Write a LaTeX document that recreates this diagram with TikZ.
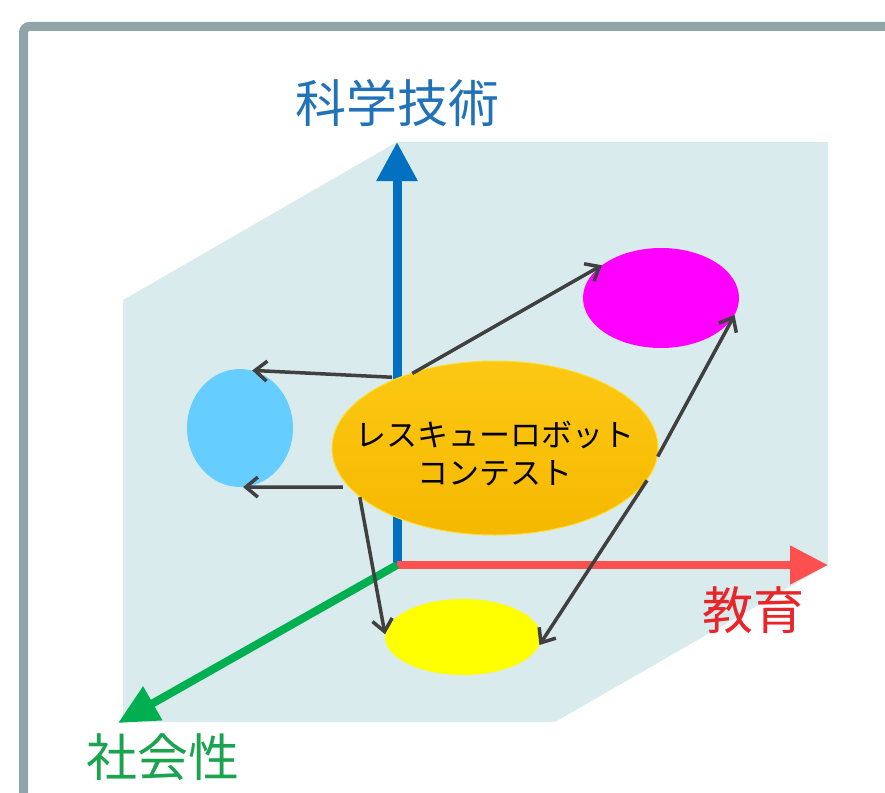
\documentclass[tikz,border=0pt]{standalone}
\usepackage{fontspec}
\setmainfont{Noto Sans CJK JP}
\usetikzlibrary{arrows.meta,shapes.geometric}
\definecolor{framec}{RGB}{143,165,167}
\definecolor{planec}{RGB}{218,235,238}
\definecolor{bluec}{RGB}{0,112,192}
\definecolor{redc}{RGB}{255,80,80}
\definecolor{greenc}{RGB}{0,176,80}
\definecolor{bluet}{RGB}{34,114,184}
\definecolor{redt}{RGB}{232,38,42}
\definecolor{greent}{RGB}{27,163,80}
\definecolor{magc}{RGB}{255,0,255}
\definecolor{cyanc}{RGB}{102,206,255}
\definecolor{yelc}{RGB}{255,255,0}
\definecolor{orgtop}{RGB}{252,200,20}
\definecolor{orgbot}{RGB}{246,184,0}
\definecolor{orgline}{RGB}{252,222,50}
\definecolor{connc}{RGB}{64,64,64}
\begin{document}
\begin{tikzpicture}[x=1pt,y=-1pt,
  frame/.style={draw=framec,line width=9pt,rounded corners=6pt},
  blob/.style={ellipse,inner sep=0pt,draw=none},
  lab/.style={inner sep=0pt,font=\fontsize{51pt}{60pt}\selectfont},
  conn/.style={draw=connc,line width=3.5pt,-{Straight Barb[length=12pt,width=20pt]}}]
\useasboundingbox (0,0) rectangle (885,792);
\clip (0,0) rectangle (885,792);
\draw[frame] (23.5,830) -- (23.5,26.5) -- (920,26.5);
\fill[planec] (123,300) -- (397,142) -- (828,142) -- (828,565) -- (555,722) -- (123,722) -- cycle;
% ellipses
\node[blob,fill=cyanc,minimum width=106pt,minimum height=118pt] (cyan) at (240,428) {};
\node[blob,fill=magc,minimum width=156pt,minimum height=100pt] (mag) at (661,298) {};
\node[blob,fill=yelc,minimum width=156pt,minimum height=76pt] (yel) at (463,637) {};
% axes
\coordinate (origin) at (397,565);
\coordinate (ztop) at (397,142);
\coordinate (xend) at (828,565);
\coordinate (yend) at (118,723);
\draw[line width=9pt,draw=bluec,-{Triangle[length=39pt,width=39pt]}] (origin) -- (ztop);
\draw[line width=8pt,draw=redc,-{Triangle[length=38pt,width=37pt]}] (origin) -- (xend);
\draw[line width=8pt,draw=greenc,-{Triangle[length=40pt,width=37pt]}] (origin) -- (yend);
% central ellipse
\node[ellipse,inner sep=0pt,minimum width=326pt,minimum height=174pt,
      top color=orgtop,bottom color=orgbot,draw=orgline,line width=1pt] (orange) at (495,448) {};
\node[inner sep=0pt,align=center,font=\fontsize{31pt}{38pt}\selectfont] (title) at (495,454)
  {レスキューロボット\\コンテスト};
% labels
\node[lab,text=bluet] (zlab) at (397,103) {科学技術};
\node[lab,text=redt] (xlab) at (753,610) {教育};
\node[lab,text=greent] (ylab) at (163,757) {社会性};
% connectors
\draw[conn,shorten <=-4pt] (orange.136) -- (mag.151);
\draw[conn,shorten <=6pt] (orange.144) -- (cyan.78);
\draw[conn,shorten <=6pt] (orange.195) -- (cyan.-87);
\draw[conn] (orange.200) -- (yel.178);
\draw[conn] (orange.-3) -- (mag.-13);
\draw[conn,shorten <=3pt] (orange.-11) -- (yel.-6);
\end{tikzpicture}
\end{document}
